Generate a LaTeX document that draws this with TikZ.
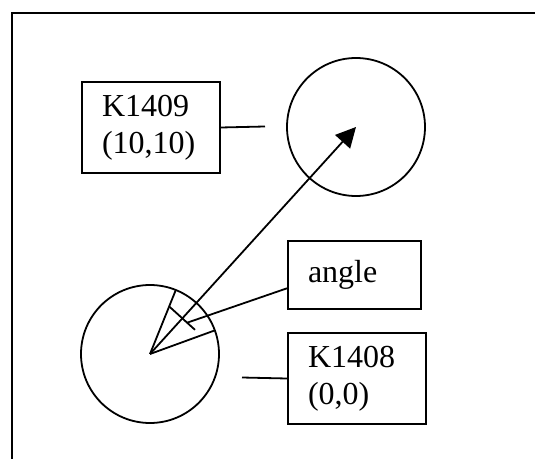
\documentclass[tikz,border=0pt]{standalone}
\usepackage{fontspec}
\setmainfont{Liberation Serif}
\usepackage{tikz}
\usetikzlibrary{calc,arrows.meta}

\begin{document}
\begin{tikzpicture}[x=0.75pt,y=-0.75pt,
    labelbox/.style={draw, line width=1.5pt, anchor=north west, align=left,
      inner xsep=15pt, inner ysep=0pt, font=\fontsize{24}{27.6}\selectfont},
    thinline/.style={line width=1.35pt}]
        \useasboundingbox (0,0) rectangle (535,459);
        \clip (0,0) rectangle (535,459);
        % Outer frame: only its left and top sides fall inside the page
        \draw[line width=1.6pt] (12,480) -- (12,13) -- (560,13);
        % Circle centres
        \coordinate (P1409) at (356,127);
        \coordinate (P1408) at (150,354);
        % Circles
        \draw[thinline] (P1409) circle (51.75pt);
        \draw[thinline] (P1408) circle (51.75pt);
        % Sides of the angle
        \coordinate (SideA) at ($(P1408)+(25.8,-64)$);
        \coordinate (SideB) at ($(P1408)+(64.8,-23.6)$);
        \draw[thinline] (P1408) -- (SideA);
        \draw[thinline] (P1408) -- (SideB);
        % Arrow from centre to centre
        \draw[thinline, -{Triangle[length=15pt,width=15pt]}] (P1408) -- (P1409);
        % Tick across the arrow
        \coordinate (T) at ($(P1408)!0.157!(P1409)$);
        \draw[thinline] ($(T)!0.066!90:(P1409)$) -- ($(T)!0.066!-90:(P1409)$);
        \coordinate (Tend) at ($(T)!0.025!-90:(P1409)$);
        % Label boxes
        \node[labelbox, text width=73.5pt, minimum height=68.25pt] (k1409) at (81,81) {K1409\\(10,10)};
        \node[labelbox, text width=69.75pt, minimum height=51pt] (angle) at (287,240) {angle};
        \node[labelbox, text width=73.5pt, minimum height=68.25pt] (k1408) at (287,332) {K1408\\(0,0)};
        % Leaders
        \coordinate (k1409end) at (265,126.5);
        \coordinate (k1408end) at (242,377.5);
        \coordinate (angleport) at ($(angle.south west)!0.31!(angle.north west)$);
        \draw[thinline] (k1409.east) -- (k1409end);
        \draw[thinline] (k1408.west) -- (k1408end);
        \draw[thinline] (angleport) -- (Tend);
\end{tikzpicture}
\end{document}
